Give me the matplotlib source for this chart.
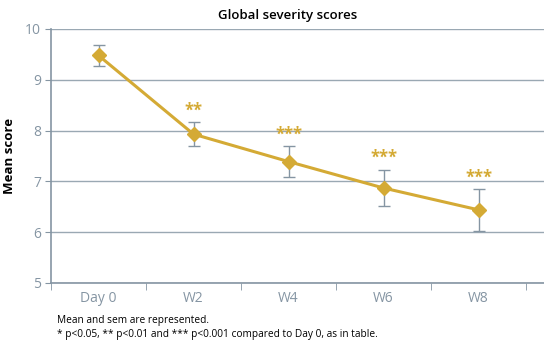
import matplotlib
matplotlib.use('Agg')
import matplotlib.pyplot as plt

categories = ['Day 0', 'W2', 'W4', 'W6', 'W8']
means = [9.48, 7.93, 7.39, 6.87, 6.44]
sems = [0.21, 0.23, 0.31, 0.36, 0.41]
stars = ['', '**', '***', '***', '***']

gold = '#D4AA35'
grey = '#8595A3'

plt.rcParams['font.family'] = ['Open Sans', 'DejaVu Sans']

fig = plt.figure(figsize=(5.44, 3.41), dpi=100)
ax = fig.add_axes([51 / 544, 1 - 283 / 341, (544 - 51) / 544, (283 - 29) / 341])

x = list(range(len(categories)))
ax.errorbar(x, means, yerr=sems, fmt='none', ecolor=grey, elinewidth=1, capsize=4, capthick=1, zorder=3)
ax.plot(x, means, color=gold, lw=2.2, marker='D', ms=7.5, zorder=4)
for xi, m, s, st in zip(x, means, sems, stars):
    if st:
        ax.text(xi, m + s + 0.05, st, color=gold, ha='center', va='bottom', fontsize=12, fontweight='bold')

ax.set_ylim(5, 10)
ax.set_xlim(-0.5, -0.5 + 493 / 95)
ax.set_yticks([5, 6, 7, 8, 9, 10])
ax.yaxis.grid(True, color='#9AA8B3', lw=1)
ax.set_axisbelow(True)
ax.set_xticks(x)
ax.set_xticklabels(categories)
ax.set_xticks([i - 0.5 for i in range(len(categories) + 1)], minor=True)
ax.tick_params(axis='x', which='major', length=0, pad=6, labelsize=10, labelcolor=grey)
ax.tick_params(axis='x', which='minor', length=5, color=grey, direction='out')
ax.tick_params(axis='y', length=4, color=grey, labelsize=10, labelcolor=grey, pad=3)
for side in ['top', 'right']:
    ax.spines[side].set_visible(False)
ax.spines['left'].set_color(grey)
ax.spines['bottom'].set_color(grey)
ax.spines['left'].set_linewidth(1.2)
ax.spines['bottom'].set_linewidth(1.2)

ax.set_ylabel('Mean score', fontsize=9.5, fontweight='bold', color='black')
ax.yaxis.set_label_coords(-35 / 493, 0.5)
fig.text(288 / 544, 1 - 15 / 341, 'Global severity scores', ha='center', va='center', fontsize=9.5, fontweight='semibold')

fig.text(57 / 544, 1 - 321 / 341, 'Mean and sem are represented.', fontsize=7.3, va='center')
fig.text(57 / 544, 1 - 335 / 341, '* p<0.05, ** p<0.01 and *** p<0.001 compared to Day 0, as in table.', fontsize=7.3, va='center')

fig.savefig('out.png', dpi=100)
